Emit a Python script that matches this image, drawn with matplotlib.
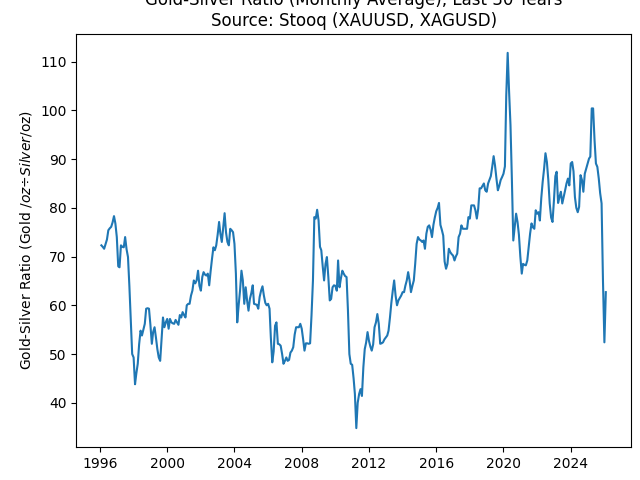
import matplotlib
matplotlib.use("Agg")
import matplotlib.pyplot as plt
import matplotlib.dates as mdates
import pandas as pd

# monthly average gold/silver ratio, Feb 1996 .. Feb 2026
start_month = "1996-02-01"
ratio = [
    72.3, 72.0, 71.6, 72.5, 73.5, 75.4, 75.8, 76.1, 77.0, 78.3, 76.8, 74.0,
    68.0, 67.8, 72.3, 72.0, 71.9, 74.0, 71.5, 69.9, 64.0, 57.0, 50.0, 49.3,
    43.8, 46.0, 48.0, 52.0, 54.8, 53.8, 55.0, 56.2, 59.3, 59.4, 59.3, 56.0,
    52.1, 54.5, 55.5, 53.4, 51.0, 49.3, 48.6, 53.0, 57.5, 55.5, 56.5, 57.2,
    55.2, 57.2, 56.5, 56.3, 56.2, 57.0, 56.5, 56.0, 58.0, 57.5, 58.6, 58.0,
    57.5, 60.0, 60.3, 60.3, 62.0, 63.0, 65.1, 64.5, 65.1, 67.1, 64.0, 63.0,
    65.8, 66.8, 66.3, 66.1, 66.5, 64.1, 67.0, 69.6, 71.9, 71.3, 72.3, 74.5,
    77.1, 74.7, 73.0, 76.0, 78.9, 75.0, 73.0, 72.3, 75.7, 75.4, 75.0, 72.6,
    66.5, 56.5, 60.0, 63.0, 67.1, 65.1, 60.3, 63.7, 61.0, 58.9, 61.3, 62.5,
    64.1, 60.3, 60.2, 60.1, 59.3, 61.7, 63.0, 63.9, 62.0, 60.5, 60.0, 60.3,
    59.3, 53.4, 48.3, 50.5, 55.8, 56.5, 52.1, 52.0, 51.7, 50.0, 48.0, 48.6,
    49.3, 48.6, 48.8, 50.3, 50.7, 51.4, 54.0, 55.5, 55.5, 55.5, 56.2, 55.2,
    53.0, 50.7, 52.2, 52.2, 52.1, 52.2, 58.0, 65.1, 78.1, 77.8, 79.6, 77.4,
    72.0, 71.3, 68.0, 65.1, 68.5, 69.9, 65.8, 61.0, 61.3, 63.7, 64.1, 64.0,
    63.0, 69.2, 63.7, 65.5, 67.1, 66.5, 66.0, 65.8, 59.0, 50.0, 48.0, 47.8,
    45.0, 41.8, 34.8, 40.0, 41.8, 42.8, 41.4, 47.3, 51.0, 52.4, 54.5, 52.7,
    51.5, 50.7, 52.0, 55.5, 56.5, 58.2, 56.2, 52.1, 52.2, 52.4, 53.0, 53.4,
    53.8, 54.8, 57.5, 60.5, 63.0, 65.1, 62.0, 60.0, 61.0, 61.5, 62.0, 62.7,
    62.7, 64.0, 65.1, 66.8, 65.1, 62.7, 64.0, 65.1, 68.5, 72.6, 74.0, 73.5,
    73.3, 73.0, 73.3, 71.6, 74.7, 76.1, 76.4, 75.5, 74.0, 76.5, 78.0, 79.3,
    80.0, 81.0, 76.5, 75.5, 74.3, 69.0, 67.5, 68.5, 71.6, 70.9, 70.5, 70.2,
    69.2, 70.0, 70.6, 74.0, 74.7, 76.4, 75.7, 75.7, 75.7, 75.7, 78.1, 77.8,
    80.5, 80.5, 80.5, 79.5, 77.8, 79.8, 84.0, 84.0, 84.5, 85.0, 83.6, 83.3,
    85.0, 85.7, 86.5, 88.4, 90.6, 88.7, 86.0, 83.6, 84.5, 85.7, 86.3, 87.0,
    88.5, 103.0, 111.8, 104.0, 97.0, 86.0, 73.3, 76.0, 78.8, 77.1, 74.5, 70.0,
    66.5, 68.5, 68.3, 68.2, 69.2, 72.0, 74.7, 76.8, 76.0, 75.7, 79.5, 78.8,
    79.1, 77.4, 82.0, 85.3, 88.0, 91.2, 89.4, 85.7, 80.9, 78.0, 77.1, 81.5,
    86.5, 87.4, 81.0, 82.2, 83.3, 80.9, 82.2, 83.6, 85.0, 86.0, 84.6, 89.1,
    89.4, 87.5, 82.2, 80.0, 79.1, 80.2, 86.7, 85.7, 83.3, 87.0, 88.0, 89.0,
    90.1, 90.5, 100.4, 100.4, 93.9, 89.1, 88.4, 86.0, 83.0, 80.9, 65.1, 52.4,
    62.7,
]
dates = pd.date_range(start_month, periods=len(ratio), freq="MS")

fig, ax = plt.subplots(figsize=(6.4, 4.8), dpi=100)
fig.subplots_adjust(left=0.119, right=0.986, bottom=0.069, top=0.929)

ax.plot(dates, ratio)
ax.set_title("Gold-Silver Ratio (Monthly Average), Last 30 Years\nSource: Stooq (XAUUSD, XAGUSD)")
ax.set_ylabel("Gold-Silver Ratio (Gold $/oz ÷ Silver $/oz)")

ax.xaxis.set_major_locator(mdates.YearLocator(4))
ax.xaxis.set_major_formatter(mdates.DateFormatter("%Y"))

fig.savefig("out.png")
